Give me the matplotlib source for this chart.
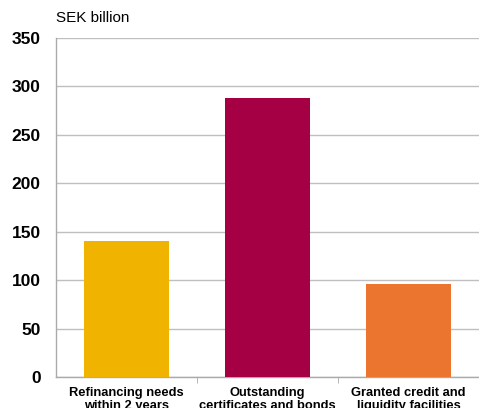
import matplotlib
matplotlib.use("Agg")
import matplotlib.pyplot as plt

categories = ["Refinancing needs\nwithin 2 years",
              "Outstanding\ncertificates and bonds",
              "Granted credit and\nliquidity facilities"]
values = [140, 288, 96]
colors = ["#F0B400", "#A50044", "#EB742E"]
yticks = [0, 50, 100, 150, 200, 250, 300, 350]

plt.rcParams['font.family'] = ['Liberation Sans', 'DejaVu Sans']

fig = plt.figure(figsize=(4.79, 4.08), dpi=100)
ax = fig.add_axes([56 / 479, 31 / 408, 423 / 479, 339 / 408])

x = range(len(categories))
ax.bar(x, values, width=0.6, color=colors, zorder=3)

ax.set_xlim(-0.5, 2.5)
ax.set_ylim(0, 350)
ax.set_yticks(yticks)
ax.set_yticklabels([str(v) for v in yticks], fontsize=12.5, fontweight='bold')
ax.yaxis.grid(True, color='#BFBFBF', linewidth=1, zorder=0)
ax.tick_params(axis='y', length=0, pad=11)

ax.set_xticks([0.5, 1.5], minor=True)
ax.set_xticks(list(x))
ax.set_xticklabels(categories, fontsize=9.3, fontweight='bold', linespacing=1.15)
ax.tick_params(axis='x', which='major', length=0, pad=7)
ax.tick_params(axis='x', which='minor', length=4, color='#AAAAAA')

for side in ['top', 'right']:
    ax.spines[side].set_visible(False)
for side in ['left', 'bottom']:
    ax.spines[side].set_color('#AAAAAA')
    ax.spines[side].set_linewidth(1)

fig.text(56 / 479, 1 - 18 / 408, "SEK billion", fontsize=11, va='center', ha='left')

fig.savefig("out.png", dpi=100)
